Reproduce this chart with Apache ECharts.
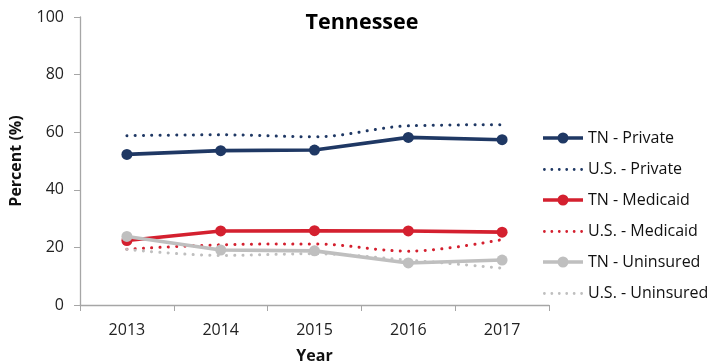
<!DOCTYPE html>
<html><head><meta charset="utf-8">
<script src="https://cdn.jsdelivr.net/npm/echarts@6/dist/echarts.min.js"></script>
<style>html,body{margin:0;padding:0;background:#fff}#c{width:719px;height:364px}</style>
</head><body><div id="c"></div>
<script>
const years = ['2013','2014','2015','2016','2017'];
const tnPrivate = [52.3, 53.6, 53.8, 58.2, 57.4];
const usPrivate = [58.8, 59.1, 58.4, 62.2, 62.6];
const tnMedicaid = [22.4, 25.7, 25.8, 25.7, 25.3];
const usMedicaid = [19.4, 20.9, 21.2, 18.7, 22.7];
const tnUninsured = [23.8, 19.1, 18.8, 14.6, 15.6];
const usUninsured = [19.3, 17.2, 17.8, 15.6, 12.8];
const names = ['TN - Private','U.S. - Private','TN - Medicaid','U.S. - Medicaid','TN - Uninsured','U.S. - Uninsured'];

const NAVY='#1f3864', RED='#d4202f', GRAY='#bfbfbf';
function solid(name,data,color){return {name,type:'line',data,symbol:'circle',symbolSize:11,
  itemStyle:{color},lineStyle:{color,width:3.6},z:3};}
function dotted(name,data,color){return {name,type:'line',data,symbol:'none',smooth:0.35,
  itemStyle:{color},lineStyle:{color,width:3,type:[0.1,8.2],cap:'round'},z:2};}

const solidIcon = 'path://M0 3.7H40V7.3H0Z M25.5 5.5A5.5 5.5 0 1 1 14.5 5.5A5.5 5.5 0 1 1 25.5 5.5Z';
function dotsIcon(){
  let p='path://';
  for(let i=0;i<6;i++){const cx=1.4+i*7.44;p+=`M${cx+1.4} 1.4A1.4 1.4 0 1 1 ${cx-1.4} 1.4A1.4 1.4 0 1 1 ${cx+1.4} 1.4Z `;}
  return p;
}
const legendCenters=[137,168,199,230,261,292];
const legends = names.map((n,i)=>{
  const isSolid = i%2===0;
  const h = isSolid?11:2.8;
  return {orient:'vertical',left:543,top:legendCenters[i]-(isSolid?7:6.5),padding:0,itemWidth:40,itemHeight:h,
    data:[{name:n,icon:isSolid?solidIcon:dotsIcon()}],
    textStyle:{fontSize:16,color:'#111',fontFamily:'Open Sans'}};
});

const chart = echarts.init(document.getElementById('c'));
chart.setOption({
  animation:false,
  textStyle:{fontFamily:'Open Sans'},
  title:{text:'Tennessee',left:357,textAlign:'center',top:7,
    textStyle:{fontSize:21.5,fontWeight:'bold',color:'#000',fontFamily:'Open Sans'}},
  grid:{left:80,right:170,top:17,bottom:59,outerBoundsMode:'none',containLabel:false},
  legend:legends,
  xAxis:{type:'category',data:years,boundaryGap:true,
    name:'Year',nameLocation:'middle',nameGap:43,
    nameTextStyle:{fontSize:16,fontWeight:'bold',color:'#111'},
    axisLine:{lineStyle:{color:'#a6a6a6',width:1.3}},
    axisTick:{show:true,length:6,lineStyle:{color:'#a6a6a6'}},
    axisLabel:{fontSize:16,color:'#222',margin:17}},
  yAxis:{type:'value',min:0,max:100,interval:20,
    name:'Percent (%)',nameLocation:'middle',nameGap:56,
    nameTextStyle:{fontSize:16,fontWeight:'bold',color:'#111'},
    axisLine:{show:true,lineStyle:{color:'#a6a6a6',width:1.3}},
    axisTick:{show:true,length:6,lineStyle:{color:'#a6a6a6'}},
    splitLine:{show:false},
    axisLabel:{fontSize:16,color:'#222',margin:16}},
  series:[
    solid(names[0],tnPrivate,NAVY),
    dotted(names[1],usPrivate,NAVY),
    solid(names[2],tnMedicaid,RED),
    dotted(names[3],usMedicaid,RED),
    solid(names[4],tnUninsured,GRAY),
    dotted(names[5],usUninsured,GRAY)
  ]
});
</script></body></html>
